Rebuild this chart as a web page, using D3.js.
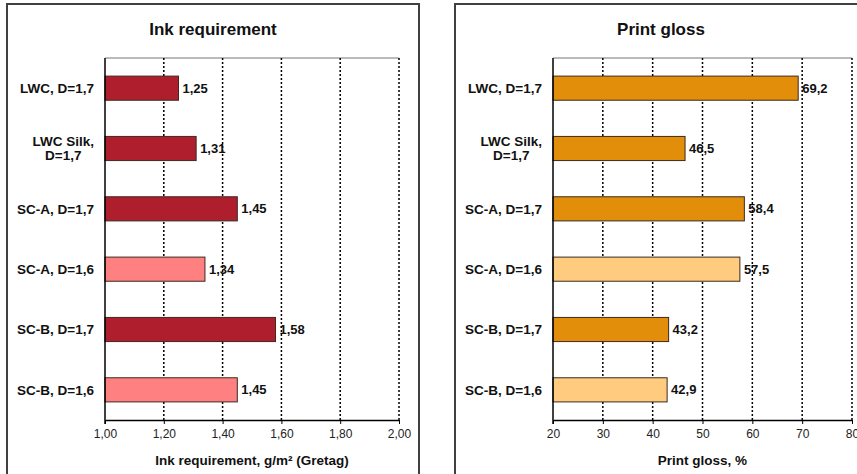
<!DOCTYPE html>
<html>
<head>
<meta charset="utf-8">
<script src="https://cdn.jsdelivr.net/npm/d3@7/dist/d3.min.js"></script>
<style>
  html, body { margin: 0; padding: 0; background: #fff; }
  svg { display: block; font-family: "Liberation Sans", Arial, sans-serif; }
</style>
</head>
<body>
<svg id="chart" width="857" height="474"></svg>
<script>
// Paper grades and target print densities
const categories = [
  ["LWC, D=1,7"],
  ["LWC Silk,", "D=1,7"],
  ["SC-A, D=1,7"],
  ["SC-A, D=1,6"],
  ["SC-B, D=1,7"],
  ["SC-B, D=1,6"]
];
// Density of each row (rows printed at D=1,6 use the lighter shade)
const densities = ["1,7", "1,7", "1,7", "1,6", "1,7", "1,6"];

// Ink requirement, g/m² (Gretag)
const inkValues = [1.25, 1.31, 1.45, 1.34, 1.58, 1.45];
const inkTicks = [1.0, 1.2, 1.4, 1.6, 1.8, 2.0];

// Print gloss, %
const glossValues = [69.2, 46.5, 58.4, 57.5, 43.2, 42.9];
const glossTicks = [20, 30, 40, 50, 60, 70, 80];

const locale = d3.formatLocale({ decimal: ",", thousands: " ", grouping: [3], currency: ["", ""] });

const svg = d3.select("#chart");

function panel(cfg) {
  const g = svg.append("g");

  // outer frame of the panel
  g.append("rect")
    .attr("x", cfg.frame[0]).attr("y", cfg.frame[1])
    .attr("width", cfg.frame[2]).attr("height", cfg.frame[3])
    .attr("fill", "none").attr("stroke", "#404040").attr("stroke-width", 2);

  g.append("text")
    .attr("x", cfg.frame[0] + cfg.frame[2] / 2).attr("y", 35)
    .attr("text-anchor", "middle")
    .attr("font-size", 17).attr("font-weight", "bold").attr("fill", "#111")
    .text(cfg.title);

  const x = d3.scaleLinear().domain(cfg.domain).range([cfg.left, cfg.right]);
  const y = d3.scaleBand().domain(d3.range(categories.length))
    .range([cfg.top, cfg.bottom]).paddingInner(0.6).paddingOuter(0.3);

  // top edge of plot area
  g.append("line")
    .attr("x1", cfg.left).attr("x2", cfg.right)
    .attr("y1", cfg.top).attr("y2", cfg.top)
    .attr("stroke", "#777").attr("stroke-width", 1);

  // dotted vertical gridlines
  g.append("g").selectAll("line")
    .data(cfg.ticks.slice(1))
    .join("line")
    .attr("x1", d => x(d)).attr("x2", d => x(d))
    .attr("y1", cfg.top).attr("y2", cfg.bottom)
    .attr("stroke", "#000").attr("stroke-width", 1.5)
    .attr("stroke-dasharray", "2,2");

  // bars
  g.append("g").selectAll("rect")
    .data(cfg.values)
    .join("rect")
    .attr("x", x(cfg.domain[0]))
    .attr("y", (d, i) => y(i))
    .attr("width", d => x(d) - x(cfg.domain[0]))
    .attr("height", y.bandwidth())
    .attr("fill", (d, i) => densities[i] === "1,6" ? cfg.light : cfg.dark)
    .attr("stroke", "#3b2a20").attr("stroke-width", 1);

  // value labels
  g.append("g").selectAll("text")
    .data(cfg.values)
    .join("text")
    .attr("x", d => x(d) + 4)
    .attr("y", (d, i) => y(i) + y.bandwidth() / 2)
    .attr("dy", "0.35em")
    .attr("font-size", 13).attr("font-weight", "bold").attr("fill", "#111")
    .text(d => locale.format(cfg.fmt)(d));

  // category labels, right-aligned block with centered lines
  categories.forEach((lines, i) => {
    const cy = y(i) + y.bandwidth() / 2;
    const t = g.append("text")
      .attr("font-size", 13.5).attr("font-weight", "bold").attr("fill", "#111")
      .attr("text-anchor", "middle");
    const n = lines.length;
    lines.forEach((ln, k) => {
      t.append("tspan").attr("x", 0)
        .attr("y", cy + (k - (n - 1) / 2) * 14)
        .attr("dy", "0.35em").text(ln);
    });
    const w = d3.max(t.selectAll("tspan").nodes(), n => n.getComputedTextLength());
    t.selectAll("tspan").attr("x", cfg.left - 11 - w / 2);
  });

  // bottom axis
  const axis = g.append("g")
    .attr("transform", `translate(0,${cfg.bottom})`)
    .call(d3.axisBottom(x).tickValues(cfg.ticks)
      .tickFormat(locale.format(cfg.tickFmt)).tickSize(4).tickSizeOuter(0));
  axis.select(".domain").attr("stroke", "#000").attr("stroke-width", 1.5);
  axis.selectAll(".tick line").attr("stroke", "#000");
  axis.selectAll(".tick text")
    .attr("font-size", 12).attr("fill", "#222")
    .attr("font-family", "Liberation Sans, Arial, sans-serif")
    .attr("dy", "0.9em");

  // left axis line
  g.append("line")
    .attr("x1", cfg.left).attr("x2", cfg.left)
    .attr("y1", cfg.top).attr("y2", cfg.bottom + 4)
    .attr("stroke", "#000").attr("stroke-width", 1.5);

  g.append("text")
    .attr("x", (cfg.left + cfg.right) / 2).attr("y", 465)
    .attr("text-anchor", "middle")
    .attr("font-size", 13.5).attr("font-weight", "bold").attr("fill", "#111")
    .text(cfg.axisTitle);
}

panel({
  frame: [7, 4, 412, 490],
  title: "Ink requirement",
  axisTitle: "Ink requirement, g/m² (Gretag)",
  domain: [1.0, 2.0], ticks: inkTicks, values: inkValues,
  fmt: ".2f", tickFmt: ".2f",
  left: 105, right: 399, top: 58, bottom: 420,
  dark: "#AF1E2D", light: "#FF8080"
});

panel({
  frame: [455, 4, 412, 490],
  title: "Print gloss",
  axisTitle: "Print gloss, %",
  domain: [20, 80], ticks: glossTicks, values: glossValues,
  fmt: ".1f", tickFmt: "d",
  left: 553, right: 852, top: 58, bottom: 420,
  dark: "#E38E0A", light: "#FFCC7F"
});
</script>
</body>
</html>
